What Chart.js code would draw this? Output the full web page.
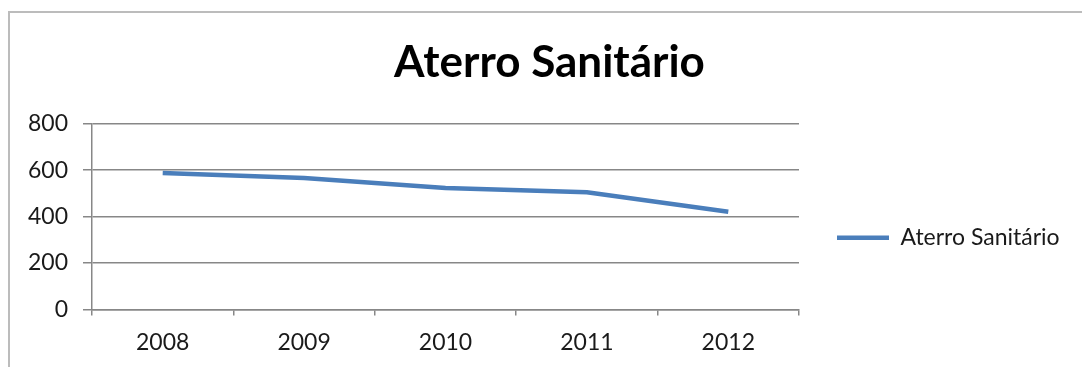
<!DOCTYPE html>
<html>
<head>
<meta charset="utf-8">
<script src="https://cdn.jsdelivr.net/npm/chart.js@4/dist/chart.umd.min.js"></script>
<style>
  html, body { margin: 0; padding: 0; background: #fff; }
  #wrap { position: relative; width: 1082px; height: 367px; overflow: hidden; }
  #frame { position: absolute; left: 8px; top: 11px; right: -4px; bottom: -4px;
           border-left: 2px solid #bcbcbc; border-top: 2px solid #bcbcbc; }
  canvas { position: absolute; left: 0; top: 0; }
</style>
</head>
<body>
<div id="wrap">
  <div id="frame"></div>
  <canvas id="canvasOne" width="1082" height="367"></canvas>
</div>
<script>
var years = ['2008', '2009', '2010', '2011', '2012'];
var aterro = [588, 567, 523, 505, 421];
var seriesName = 'Aterro Sanitário';
var yMin = 0;
var yMax = 800;
var yStep = 200;

var lineBlue = '#4a7ebb';
var axisGray = '#878787';
var textColor = '#1a1a1a';

var ctx = document.getElementById('canvasOne').getContext('2d');
var config = {
   type: 'line',
   data: {
      labels: years,
      datasets: [{
         label: seriesName,
         data: aterro,
         borderColor: lineBlue,
         backgroundColor: lineBlue,
         borderWidth: 4.5,
         pointRadius: 0,
         tension: 0,
         fill: false
      }]
   },
   options: {
      responsive: false,
      animation: false,
      layout: {
         padding: { left: 27, right: 10, top: 0, bottom: 0 }
      },
      plugins: {
         title: {
            display: true,
            text: seriesName,
            color: '#000',
            font: { family: 'Lato', size: 44, weight: 'bold' },
            padding: { top: 36, bottom: 35 }
         },
         legend: {
            position: 'right',
            // empty legend title just pushes the entry down a bit
            title: { display: true, text: '', padding: { top: 47, bottom: 47 } },
            labels: {
               usePointStyle: true,
               pointStyle: 'line',
               pointStyleWidth: 52,
               padding: 38,
               color: textColor,
               font: { family: 'Lato', size: 23 }
            }
         },
         tooltip: { enabled: false }
      },
      scales: {
         x: {
            offset: true,
            border: { color: axisGray, width: 1.5 },
            grid: {
               offset: true,
               drawOnChartArea: false,
               drawTicks: true,
               tickLength: 6,
               color: axisGray,
               lineWidth: 1.5
            },
            ticks: {
               color: textColor,
               padding: 13,
               maxRotation: 0,
               font: { family: 'Lato', size: 23 }
            },
            afterFit: function(scale) {
               scale.height = 57.5;
               // keep the plot ending at x=799, the legend sits to its right
               scale.paddingRight = 283;
            }
         },
         y: {
            min: yMin,
            max: yMax,
            border: { color: axisGray, width: 1.5 },
            grid: {
               color: axisGray,
               lineWidth: 1.5,
               tickLength: 9
            },
            ticks: {
               stepSize: yStep,
               color: textColor,
               padding: 15,
               font: { family: 'Lato', size: 23 }
            },
            afterFit: function(scale) { scale.width = 65; }
         }
      }
   }
};

var chart = new Chart(ctx, config);
</script>
</body>
</html>
